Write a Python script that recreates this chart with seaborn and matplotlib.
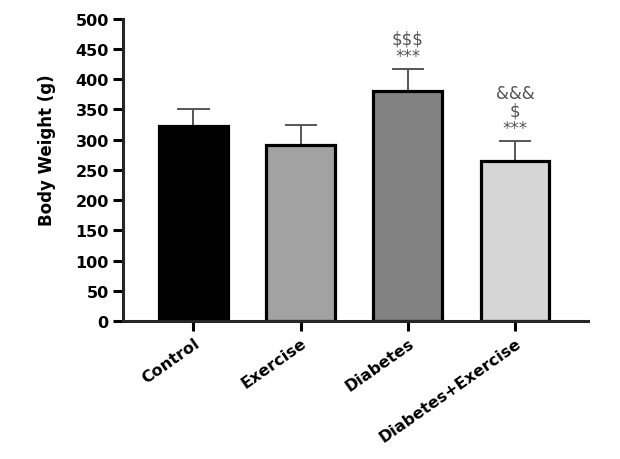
import matplotlib
matplotlib.use("Agg")
import matplotlib.pyplot as plt
import numpy as np
import pandas as pd
import seaborn as sns

# data
groups = ["Control", "Exercise", "Diabetes", "Diabetes+Exercise"]
means = [323, 291, 381, 265]
errs = [28, 34, 36, 33]
marks = ["", "", "$$$\n***", "&&&\n$\n***"]
colors = ["#000000", "#a2a2a2", "#828282", "#d6d6d6"]

sns.set_style("ticks")
plt.rcParams["font.family"] = ["DejaVu Sans"]
plt.rcParams["text.color"] = "black"
plt.rcParams["axes.labelcolor"] = "black"
plt.rcParams["xtick.color"] = "black"
plt.rcParams["ytick.color"] = "black"

df = pd.DataFrame({"group": groups, "mean": means})

fig = plt.figure(figsize=(6.2, 4.6), dpi=100)
ax = fig.add_axes([0.198, 0.30, 0.75, 0.657])

sns.barplot(data=df, x="group", y="mean", hue="group", palette=colors,
            width=0.64, edgecolor="black", linewidth=2.3, legend=False,
            ax=ax, zorder=2)

# upward-only error bars (stem + top cap)
x = np.arange(len(groups))
tops = np.array(means) + np.array(errs)
ax.vlines(x, means, tops, color="#555555", lw=1.4, zorder=1)
ax.hlines(tops, x - 0.15, x + 0.15, color="#555555", lw=1.4, zorder=1)

# significance marks
for i, (t, s) in enumerate(zip(tops, marks)):
    if s:
        ax.text(i, t + 7, s, ha="center", va="bottom", fontsize=12,
                color="#555555", linespacing=0.95)

ax.set_ylim(0, 500)
ax.set_xlim(-0.66, 3.68)
ax.set_yticks(np.arange(0, 501, 50))
ax.set_xlabel("")
ax.set_ylabel("Body Weight (g)", fontsize=12, fontweight="bold")
ax.yaxis.set_label_coords(-0.143, 0.57)

for lab in ax.get_yticklabels():
    lab.set_fontweight("bold")
    lab.set_fontsize(11.5)
ax.set_xticks(x)
ax.set_xticklabels(groups, rotation=35, ha="right", va="top",
                   rotation_mode="anchor", fontsize=11.5, fontweight="bold")

sns.despine(ax=ax)
ax.spines["left"].set_linewidth(2.2)
ax.spines["bottom"].set_linewidth(2.2)
ax.tick_params(axis="both", width=2.2, length=7, color="black", pad=3)

fig.savefig("out.png", dpi=100)
